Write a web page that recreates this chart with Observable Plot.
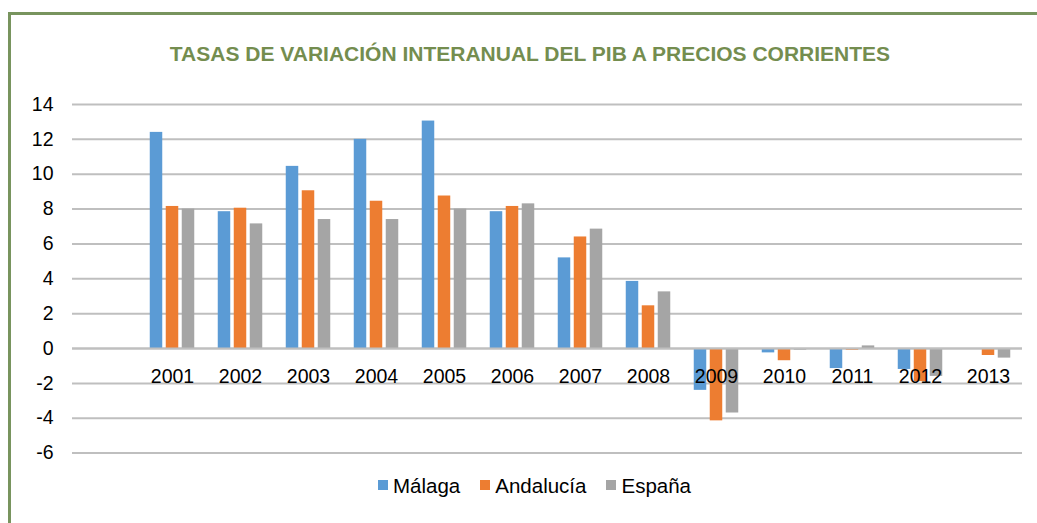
<!DOCTYPE html>
<html>
<head>
<meta charset="utf-8">
<script src="https://cdn.jsdelivr.net/npm/d3@7"></script>
<script src="https://cdn.jsdelivr.net/npm/@observablehq/plot@0.6"></script>
<style>
  body { margin: 0; background: #fff; }
  #wrap { position: relative; width: 1037px; height: 523px; overflow: hidden; font-family: "Liberation Sans", Arial, sans-serif; }
  #frame { position: absolute; left: 8px; top: 12px; width: 1200px; height: 700px; border-left: 3px solid #78945E; border-top: 3px solid #78945E; box-sizing: border-box; }
  #title { position: absolute; left: 0; top: 43px; width: 1060px; text-align: center; font-weight: bold; font-size: 21px; line-height: 21px; color: #748D4F; white-space: nowrap; }
  #chart { position: absolute; left: 0; top: 80px; }
  #legend { position: absolute; left: 0; top: 476px; width: 1069px; text-align: center; font-size: 20.5px; line-height: 20.5px; color: #000; white-space: nowrap; }
  .item { display: inline-block; margin: 0 10px; }
  .sw { display: inline-block; width: 10px; height: 10px; margin-right: 5px; vertical-align: 3px; }
</style>
</head>
<body>
<div id="wrap">
  <div id="frame"></div>
  <div id="title"></div>
  <div id="chart"></div>
  <div id="legend"></div>
</div>
<script>
const titleText = "TASAS DE VARIACIÓN INTERANUAL DEL PIB A PRECIOS CORRIENTES";
const years = ["2001","2002","2003","2004","2005","2006","2007","2008","2009","2010","2011","2012","2013"];
const seriesNames = ["Málaga", "Andalucía", "España"];
const seriesColors = ["#5B9BD5", "#ED7D31", "#A5A5A5"];
const malaga    = [12.4, 7.85, 10.45, 12.0, 13.05, 7.85, 5.2, 3.85, -2.4, -0.25, -1.15, -1.2, -0.05];
const andalucia = [8.15, 8.05, 9.05, 8.45, 8.75, 8.15, 6.4, 2.45, -4.15, -0.7, -0.1, -1.9, -0.4];
const espana    = [8.0, 7.15, 7.4, 7.4, 8.0, 8.3, 6.85, 3.25, -3.7, -0.1, 0.15, -1.6, -0.55];
const yTicks = [-6, -4, -2, 0, 2, 4, 6, 8, 10, 12, 14];

const seriesValues = [malaga, andalucia, espana];
const rows = (vals, name) => years.map((y, i) => ({year: y, value: vals[i], series: name}));

document.getElementById("title").textContent = titleText;

const offsets = [-16, 0, 16];
const inset = 27.75;

const barMarks = seriesValues.map((vals, k) =>
  Plot.barY(rows(vals, seriesNames[k]), {
    x: "year", y: "value", fill: seriesColors[k], dx: offsets[k],
    insetLeft: inset, insetRight: inset
  })
);

const chart = Plot.plot({
  width: 1037,
  height: 390,
  marginTop: 24,
  marginBottom: 17.4,
  marginLeft: 72,
  marginRight: 15,
  style: { fontFamily: "'Liberation Sans', Arial, sans-serif", fontSize: "19.5px", color: "#000", background: "transparent" },
  x: { type: "band", domain: years, range: [138, 1022], padding: 0, axis: null },
  y: { domain: [-6, 14], ticks: yTicks, tickSize: 0, tickPadding: 19, tickFormat: d => String(d), label: null },
  marks: [
    Plot.ruleY(yTicks, { stroke: "#BFBFBF", strokeWidth: 2 }),
    ...barMarks,
    Plot.ruleY([0], { stroke: "#BFBFBF", strokeWidth: 2 }),
    Plot.text(years, { x: d => d, y: () => 0, dy: 28, text: d => d, fontSize: 19.5, fill: "#000" })
  ]
});
document.getElementById("chart").appendChild(chart);

const legend = document.getElementById("legend");
seriesNames.forEach((name, k) => {
  const item = document.createElement("span");
  item.className = "item";
  const sw = document.createElement("span");
  sw.className = "sw";
  sw.style.background = seriesColors[k];
  item.appendChild(sw);
  item.appendChild(document.createTextNode(name));
  legend.appendChild(item);
});
</script>
</body>
</html>
